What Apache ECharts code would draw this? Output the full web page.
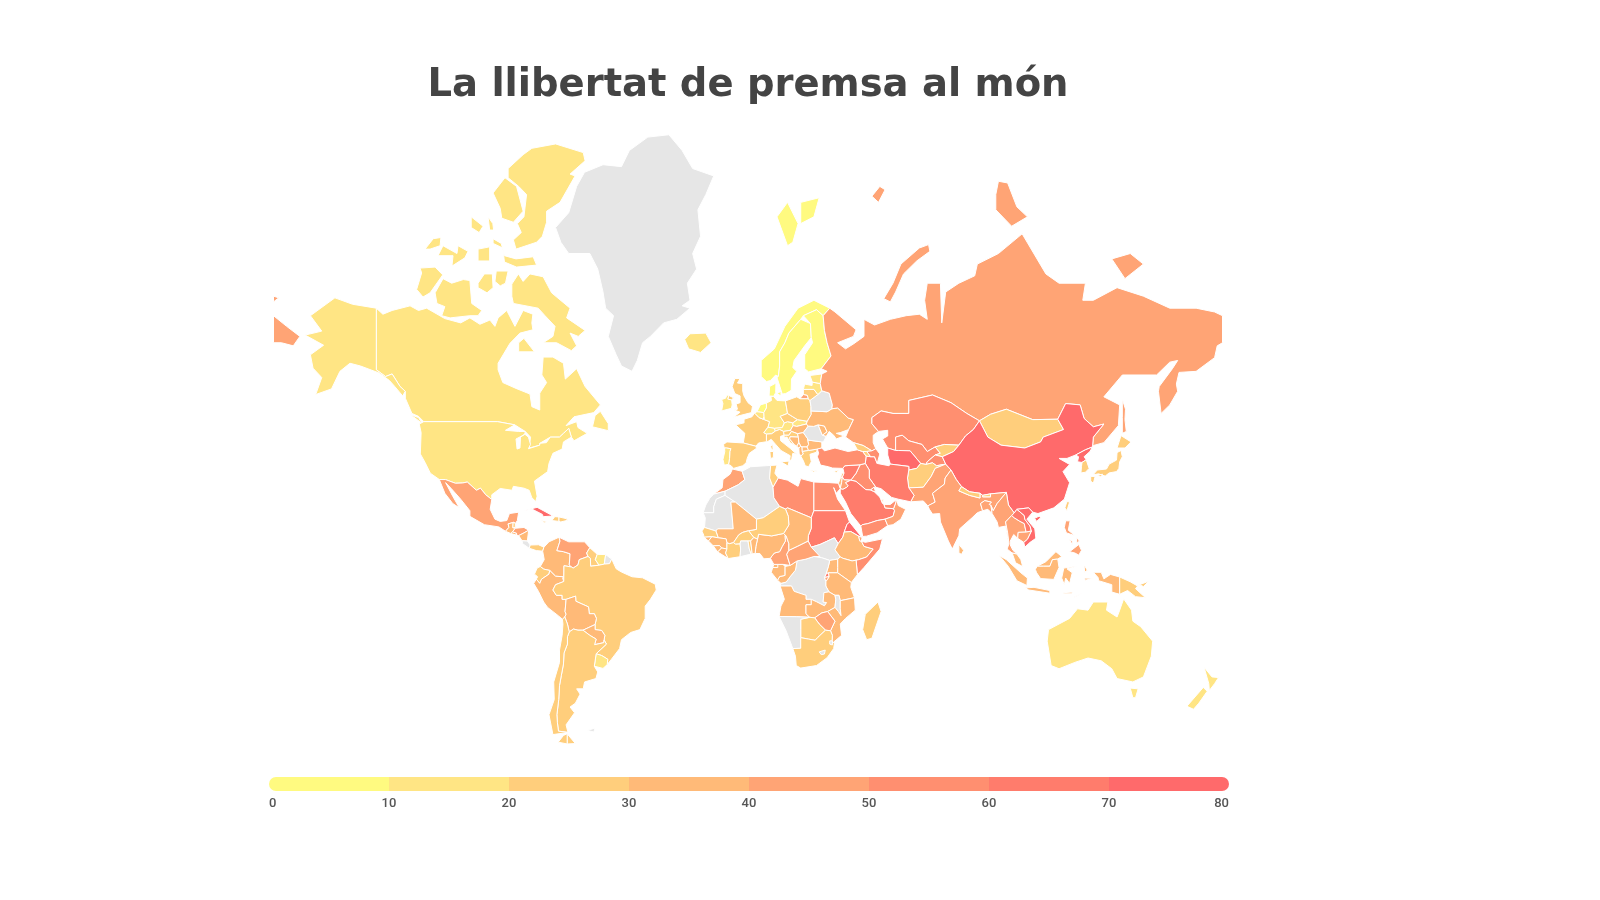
<!DOCTYPE html>
<html>
<head>
<meta charset="utf-8"/>
<title>La llibertat de premsa al món</title>
<style>
html, body { margin: 0; height: 100%; background: #fff; }
#main { width: 1600px; height: 900px; }
</style>
<script src="https://cdn.jsdelivr.net/npm/echarts@6/dist/echarts.min.js"></script>
</head>
<body>
<div id="main"></div>
<script type="text/javascript">
var titleText = 'La llibertat de premsa al món';

// values read off the fill colour of each country, countries without a value stay grey
var countryNames = [
  'Norway','Sweden','Finland','Denmark','Netherlands','Belgium','Germany','Luxembourg','Switzerland','Ireland',
  'Estonia','Latvia','Austria','Slovakia','Portugal','Iceland','Canada','United States','Australia','New Zealand',
  'Uruguay','Suriname','United Kingdom','France','Spain','Italy','Poland','Lithuania','Czechia','Slovenia',
  'Greece','Croatia','South Korea','Japan','Taiwan','Mongolia','Georgia','Kyrgyzstan','Afghanistan','Nepal',
  'Bhutan','Brazil','Argentina','Chile','Ecuador','Guyana','Panama','Haiti','Dominican Republic','Jamaica',
  'Tunisia','Niger','Senegal','Burkina Faso','Ivory Coast','Botswana','South Africa','Madagascar','Papua New Guinea','Cyprus',
  'Hungary','Ukraine','Moldova','Bulgaria','Serbia','Bosnia','Montenegro','Albania','North Macedonia','Armenia',
  'Colombia','Peru','Bolivia','Paraguay','Guatemala','El Salvador','Nicaragua','Belize','Mali','Chad',
  'Nigeria','Congo','Gabon','Equatorial Guinea','Ethiopia','Kenya','Uganda','Tanzania','Angola','Zambia',
  'Mozambique','Guinea','Guinea-Bissau','Sierra Leone','Liberia','Togo','Benin','Malaysia','Indonesia','Sri Lanka',
  'Russia','Mexico','Honduras','Venezuela','Morocco','Cameroon','Central African Rep.','Zimbabwe','Djibouti','Burundi',
  'Oman','Pakistan','India','Bangladesh','Myanmar','Thailand','Cambodia','Philippines','Libya','Egypt',
  'Somalia','Turkey','Iraq','Yemen','Kazakhstan','Uzbekistan','Tajikistan','Azerbaijan','United Arab Emirates','Kuwait',
  'Jordan','Israel','Lebanon','Qatar','Iran','Saudi Arabia','Syria','Laos','Rwanda',
  'China','North Korea','Vietnam','Cuba','Sudan','Eritrea','Turkmenistan'
];
var countryValues = [
  7.6,8.3,8.9,9.9,9.7,13,14.6,14.7,11.3,14.6,
  12.6,18.6,14.5,15.5,14.2,13.5,15.3,19,14.2,13.6,
  16.4,17.9,23.2,22.2,20.5,24.1,26.6,21.1,23.4,22.3,
  29.1,28.9,23.5,28.6,23.4,28.9,27.3,29.9,29.4,28.9,
  29.7,27.6,25.1,25.6,27.8,26.6,29.5,26.4,24.8,21,
  29.6,28.7,24.5,23.8,28.9,27.9,21.6,27.7,26.1,22.9,
  30.4,32.5,30.2,35,31.6,31.5,33.7,30.6,33.6,30,
  39.5,31.1,35.4,34.3,38.4,30.2,35.5,28.8,34.1,39.7,
  37.4,36.7,32.6,35.6,35.1,32.5,32.6,38.8,38.4,36.5,
  33.8,33.4,30.9,30.2,31.5,30,35.1,36.9,39.7,39.6,
  49.9,48.9,48.5,49.1,43.1,41.7,41.5,40.5,44,45,
  44.5,45.8,43.2,48.4,42.7,43.3,45.9,42.5,56.8,56.7,
  55.2,52.8,52.6,58.3,53.6,57.2,54,59.7,50.2,52,
  42.5,30.8,31.6,38.3,65.5,63.1,69.3,64.5,61,
  78.3,78.7,74.9,71.8,70,78.8,79
];

// class limits and colours of the legend strip
var classLimits = [0, 10, 20, 30, 40, 50, 60, 70, 80];
var classColors = ['#FFFA80', '#FFE584', '#FFCE7C', '#FFBA78', '#FFA475', '#FF8F70', '#FF7C6C', '#FF6A6B'];
var noDataColor = '#E6E6E6';

// country outlines as "lon,lat lon,lat ..." rings, hand simplified
var outlines = {
  'Canada': [
    '-141,70 -138.5,69.2 -135,69.7 -128.2,70.3 -125,69.7 -121.9,70 -115,68.6 -109,68 -105.5,68.7 -101.7,67.8 -97.9,68.4 -96,67.5 -94.8,68.7 -91.5,69.7 -88.4,67.5 -85.3,69.7 -81.6,69.2 -82,68 -81.6,67 -86.5,66.5 -90.3,64.9 -94.8,61.5 -94.8,60.3 -93,57.8 -88,56.6 -82.7,55.4 -82,52.6 -79,51.8 -79,55.6 -76.4,57.8 -78.2,59.3 -77.7,62.6 -74,62.6 -70,61.5 -69.3,58.5 -65,60.5 -61.8,57 -56,53 -58.5,51.2 -66,50.2 -69,48 -65,49 -64.5,47.5 -61,46 -66,44 -67,45 -68,47.3 -70,46 -71.5,45 -75,45 -79,43.3 -79,42.8 -83,42 -82.5,45 -84.5,46.5 -88.5,48.2 -95,49 -123,49 -125,50.3 -127.5,51 -130,54.5 -130,56 -132,57 -135,59.5 -137.5,59 -141,60.3',
    '-89.6,71.5 -89.6,72.9 -87.1,74 -85.3,73.2 -82.7,74 -77.7,73.7 -74.5,71.9 -67.5,70 -68.8,68.7 -61.8,66.9 -64.4,66 -67.5,66.5 -65,64.5 -67,63.7 -72.6,65 -77.7,65 -74,66 -73.2,67.5 -77,69 -79.6,70 -89,70.6',
    '-118.7,71.9 -115.7,73.5 -112.4,73 -108,73.4 -105.5,73.3 -104.8,70.6 -101,69.7 -102.4,69 -105.5,69 -113,68.7 -116.2,69 -115,70.2 -118,70.6',
    '-124.4,74.6 -118.7,74.7 -115.8,73.9 -120.6,71.9 -123.3,71.4 -125.7,72.3 -123.8,74.1',
    '-91,82 -85.3,82.7 -82,83 -73,83.2 -62.5,82.8 -61.8,82.4 -67.5,81.7 -65.6,81.6 -71.3,80 -76.4,79.4 -76.4,78.6 -78,77.5 -80.2,77 -88,76.4 -89,77.2 -86,77.8 -87.5,78.5 -85,79 -84,80.5 -87,81 -91,81.5',
    '-92.2,81.5 -87.8,81 -85.3,79.4 -89,78.6 -93.4,78.9 -94,79.6 -96.7,80.6',
    '-96.7,77.3 -93.6,76.9 -92.4,75.8 -88,75.5 -81.5,75.7 -80.2,74.9 -87.8,74.7 -92.4,75.2 -93,76.5 -96.7,76.9',
    '-117.6,75.8 -115.7,76.7 -110.4,76 -110,76.7 -106.2,76.2 -107.4,75.6 -112.3,74.8 -111.9,75.8',
    '-122.5,76.4 -119.4,77.3 -116.5,77.4 -116.8,76.7 -120.6,76.4',
    '-102.4,75.3 -98,75.3 -98,76.6 -102.4,76.4',
    '-105,79 -100.5,78.3 -102,77.8 -105,78.2',
    '-98.6,79 -96.8,78.5 -96.5,78 -98,78',
    '-102.4,72.5 -99,71.9 -96.7,72.5 -97,74 -100,74 -102.4,73',
    '-96,73.2 -94,72.7 -92,73 -91,74.3 -95.5,74.3',
    '-87,63.5 -81,63.5 -85,65.7 -87,65',
    '-59,47.7 -53,46.7 -53,48.5 -56,51.5 -58,50.5',
    '-128,50.7 -123.5,48.5 -125,50'
  ],
  'United States': [
    '-123,49 -95,49 -88.5,48.2 -92,46.8 -87,46.5 -84.5,46.5 -84.7,45.7 -88,44.5 -87.6,41.7 -86.5,42 -86.3,45 -84.7,45.8 -83.3,45 -82.5,43 -83.3,41.8 -79,42.8 -79,43.3 -76.5,43.5 -75,45 -71.5,45 -70,46 -68,47.3 -67,45 -70,43.7 -70.5,41.7 -74,40.5 -75.5,37.5 -76,35 -81,32 -80,27 -80.5,25.2 -82,26.5 -83,29 -85,29.7 -89,30.3 -89.5,29 -94,29.6 -97.2,27.5 -97.2,25.9 -99.5,27.5 -101.5,29.7 -103,29 -106.5,31.7 -108.2,31.4 -111,31.3 -114.8,32.5 -117.1,32.5 -120.5,34.5 -122.5,37.8 -124.3,40.3 -124,46.2 -124.7,48.4',
    '-141,70 -141,60.3 -137.5,59 -135,59.5 -132,57 -130,56 -131,55 -134,57 -136,58.2 -140,59.7 -147,61 -151,61.5 -154.8,60 -158,56.5 -164,55.3 -161.7,58.8 -165,60.6 -166,63 -161,64.6 -168,66.2 -161.7,66.8 -166,69 -156.7,71.3 -150,70.5'
  ],
  'Greenland': ['-73,78.2 -68,79.3 -65,81 -62,81.8 -55,82.2 -48,82.1 -45,82.9 -38,83.5 -30,83.6 -25,82.9 -21,82 -13,81.6 -16,80.5 -19,79.5 -18,77.5 -21,76 -19.5,74.5 -23,73 -22,71 -25,70.3 -22,70 -27,68.5 -32,68 -37,66 -40,65 -42,62 -44,60 -48,61 -50,63 -53,66 -51,69 -54,70 -55,72 -57,74.5 -60,76 -68,76 -71,77'],
  'Iceland': ['-24,65.5 -22,66.4 -16,66.5 -14,65 -18,63.4 -22.5,64'],
  'Mexico': ['-117.1,32.5 -114.8,32.5 -111,31.3 -108.2,31.4 -106.5,31.7 -103,29 -101.5,29.7 -99.5,27.5 -97.2,25.9 -97.8,22.5 -96,19 -94,18.2 -91.5,18.5 -90.5,21 -87,21.5 -87.5,18.5 -88.2,17.5 -88.9,17.9 -89.1,17.8 -91,17.3 -90.7,16 -92,14.6 -94.5,16.2 -100,17 -105.5,20 -105.5,22 -109,26 -112.5,29.5 -114.7,31.5 -112,27 -109.5,23 -112,24.5 -115,28'],
  'Guatemala': ['-92,14.6 -90.7,16 -91,17.3 -89.1,17.8 -89.2,15.9 -88.3,15.7 -89.3,14.4 -90,13.8'],
  'Belize': ['-89.1,17.8 -88.9,17.9 -88.2,17.5 -88.3,16 -89.2,15.9'],
  'El Salvador': ['-90,13.8 -89.3,14.4 -87.8,13.9 -87.8,13.2'],
  'Honduras': ['-89.3,14.4 -88.3,15.7 -85,16 -83.2,15 -85,14 -87,13 -87.8,13.2 -87.8,13.9'],
  'Nicaragua': ['-87,13 -85,14 -83.2,15 -83.7,11 -85.7,11.1'],
  'Costa Rica': ['-85.7,11.1 -83.7,11 -82.6,9.5 -83,8.3 -85.5,10'],
  'Panama': ['-83,8.3 -82.6,9.5 -79.5,9.6 -77.4,8.7 -77.9,7.2 -80.3,7.4'],
  'Cuba': ['-85,22 -80,23.2 -75,20.7 -74.2,20.1 -77.7,19.9 -78,20.7 -82,22.6'],
  'Haiti': ['-74.4,18.5 -71.7,18.2 -71.7,19.8 -73.3,19.9'],
  'Dominican Republic': ['-71.7,18.2 -71.7,19.8 -69,19.2 -68.4,18.6 -71,18'],
  'Jamaica': ['-78.3,18.4 -76.3,18.2 -77.2,17.7'],
  'Colombia': ['-77.4,8.7 -75.5,10.7 -71.7,12.4 -71.3,11 -72.5,7.4 -70,7 -67.5,6.2 -67.8,2 -67,1.2 -69.8,1.7 -69.9,-4.3 -70.3,-3 -70,-2.5 -73,-2.3 -75.2,-0.1 -77.5,0.4 -78.8,1.4 -77.3,4 -77.9,7.2'],
  'Venezuela': ['-71.7,12.4 -68,10.7 -62,10.7 -60,8.5 -61.2,6.5 -60.7,5.2 -64,4 -64.5,2 -66.3,0.8 -67,1.2 -67.8,2 -67.5,6.2 -70,7 -72.5,7.4 -71.3,11'],
  'Guyana': ['-60,8.5 -57.2,6 -57.9,4 -56.5,1.9 -59.7,1.5 -59.8,4.5 -60.7,5.2 -61.2,6.5'],
  'Suriname': ['-57.2,6 -54,5.9 -54.5,2.3 -56.5,1.9 -57.9,4'],
  'French Guiana': ['-54,5.9 -51.7,4.2 -52.5,2.5 -54.5,2.3'],
  'Ecuador': ['-78.8,1.4 -77.5,0.4 -75.2,-0.1 -75.5,-1.5 -78.3,-3.4 -79,-5 -80.3,-3.4 -79.8,-2.5 -81,-1.5 -80,0.8'],
  'Peru': ['-80.3,-3.4 -79,-5 -78.3,-3.4 -75.5,-1.5 -75.2,-0.1 -73,-2.3 -70,-2.5 -70.3,-3 -69.9,-4.3 -73,-5.5 -74,-7.5 -72.7,-9.5 -70.5,-9.5 -70.5,-11 -69,-11 -69.4,-15.5 -69,-16.5 -69.5,-17.5 -70.4,-18.3 -72,-17 -76,-14 -77.5,-12 -79.5,-8 -81.3,-5'],
  'Brazil': ['-60.7,5.2 -59.8,4.5 -59.7,1.5 -56.5,1.9 -54.5,2.3 -52.5,2.5 -51.7,4.2 -50,0.5 -48,-0.7 -44,-2.5 -40,-2.9 -35.2,-5.3 -34.8,-7.5 -37,-11 -39,-13.5 -39,-18 -41,-22 -44.5,-23 -48,-25.5 -48.7,-28.5 -52,-32.2 -53.4,-33.7 -53.2,-32 -55.5,-30.8 -57.6,-30.2 -53.7,-27 -54.6,-25.6 -54.3,-24 -55.5,-22.3 -58,-22 -58,-20.2 -57.5,-18 -58.3,-16.3 -60.2,-16.3 -60.5,-13.8 -65.3,-11.7 -65.4,-9.8 -69,-11 -70.5,-11 -70.5,-9.5 -72.7,-9.5 -74,-7.5 -73,-5.5 -69.9,-4.3 -69.8,1.7 -67,1.2 -66.3,0.8 -64.5,2 -64,4'],
  'Bolivia': ['-69,-11 -65.4,-9.8 -65.3,-11.7 -60.5,-13.8 -60.2,-16.3 -58.3,-16.3 -57.5,-18 -58,-20.2 -62.6,-22.2 -64.5,-22.2 -66.2,-21.8 -67.8,-22.8 -68.5,-20 -69.5,-17.5 -69,-16.5 -69.4,-15.5'],
  'Paraguay': ['-58,-20.2 -58,-22 -55.5,-22.3 -54.3,-24 -54.6,-25.6 -54.7,-26.5 -58.2,-27.2 -57.6,-25.3 -60,-24 -62.6,-22.2'],
  'Uruguay': ['-57.6,-30.2 -55.5,-30.8 -53.2,-32 -53.4,-33.7 -55,-34.9 -58.3,-34.2'],
  'Argentina': [
    '-67.8,-22.8 -66.2,-21.8 -64.5,-22.2 -62.6,-22.2 -60,-24 -57.6,-25.3 -58.2,-27.2 -54.7,-26.5 -54.6,-25.6 -53.7,-27 -57.6,-30.2 -58.3,-34.2 -57,-36 -57.7,-38 -62,-39 -62.5,-41 -65,-41 -63.7,-42.5 -65.5,-45 -67.5,-46 -65.8,-47.5 -69,-50.5 -68.3,-52.3 -71.9,-52 -72.3,-50 -72.5,-48 -71.8,-44 -71.5,-40 -70.8,-37 -70,-33.5 -69.8,-30 -68.5,-27 -68.5,-24.5',
    '-68.6,-52.6 -65.5,-54.8 -68.6,-54.9'
  ],
  'Chile': [
    '-69.5,-17.5 -68.5,-20 -67.8,-22.8 -68.5,-24.5 -68.5,-27 -69.8,-30 -70,-33.5 -70.8,-37 -71.5,-40 -71.8,-44 -72.5,-48 -72.3,-50 -71.9,-52 -68.3,-52.3 -74,-52.8 -75.5,-48 -73.5,-44 -73.7,-39 -71.5,-33 -71.5,-29 -70.5,-24 -70.2,-20 -70.4,-18.3',
    '-68.6,-52.6 -68.6,-54.9 -72,-54.5 -70,-53'
  ],
  'Falkland Islands': ['-61,-51.8 -58,-51.3 -58.5,-52.2'],
  'Norway': [
    '7,58 5,59 5,62 10,64 14,67.5 19,70 25,71 31,70 28.5,69 26,69.8 21,69 20,68.5 15.5,66.5 14,65 12,63.5 12,61 11.5,59 10.5,59.3 8.5,58.2',
    '11,79 15,76.7 17,77 19,78.5 15,80',
    '20,80 27,80.3 25,79 20,78.5'
  ],
  'Sweden': ['11.5,59 12,61 12,63.5 14,65 15.5,66.5 20,68.5 23.7,67.9 24,65.8 21.5,64.5 17.5,62 17,60.7 18.5,60 16.5,58.5 16.4,56.2 14.3,55.5 13,55.4 11,58.8'],
  'Finland': ['21.5,60.5 21.5,63 24.5,65 24,65.8 23.7,67.9 21,69 26,69.8 28.5,69 29,66.9 30,65 31.5,62.8 27.8,60.5 23,59.9'],
  'Denmark': ['8,55 8.2,57 10.6,57.7 10.5,55.7 9.7,54.9', '11,55.5 12.5,56 12.5,55'],
  'United Kingdom': [
    '-5.5,50.1 1.3,51.2 1.7,52.7 0,53.5 -1.5,55 -2,56 -2,57.6 -4,57.7 -3,58.6 -5,58.6 -6,57 -5,55.5 -3,55 -3,53.5 -4.5,53.2 -4,52 -5.2,51.8 -3,51.3',
    '-7.3,55.1 -5.5,54.6 -6.2,54.1 -7.7,54.3'
  ],
  'Ireland': ['-7.3,55.1 -7.7,54.3 -6.2,54.1 -6,53 -6.3,52.2 -10,51.6 -9.5,53.3 -10,54.2 -8.5,54.5 -8,55.2'],
  'France': ['2.5,51.1 4.2,50 5.8,49.6 6.2,49.5 8.2,49 7.6,47.6 6,46.2 7,45.8 7,44 7.5,43.8 4,43.4 3,42.5 -1.8,43.4 -1.2,46 -4.7,48.2 -1.5,48.7 -1.5,49.6 1.5,50.2', '8.6,42.4 9.4,43 9.5,41.6 9,41.4'],
  'Spain': ['-1.8,43.4 3,42.5 3.2,41.9 0.5,40.5 -0.3,39 -0.7,37.7 -2,36.8 -5.5,36 -6.4,36.8 -7.4,37.2 -7,39 -6.9,41 -6.5,41.8 -8.2,42 -9,42 -9.3,43 -8,43.7'],
  'Portugal': ['-7.4,37.2 -9,37 -9.5,38.7 -8.8,41 -8.9,42 -8.2,42 -6.5,41.8 -6.9,41 -7,39'],
  'Netherlands': ['3.4,51.4 4.7,53 7,53.4 7,52.3 6,51.2'],
  'Belgium': ['2.5,51.1 3.4,51.4 6,51.2 6.1,50.2 5.8,49.6 4.2,50'],
  'Luxembourg': ['5.8,49.6 6.1,50.2 6.2,49.5'],
  'Germany': ['7,53.4 8.9,54 8.7,54.9 9.7,54.9 11,54 14.2,53.9 14.6,52.5 15,51 12.2,50.3 13.8,48.7 13,47.5 10,47.3 7.6,47.6 8.2,49 6.2,49.5 6.1,50.2 6,51.2 7,52.3'],
  'Switzerland': ['6,46.2 7.6,47.6 10,47.3 10.4,46.6 9,45.9 7,45.8'],
  'Austria': ['10,47.3 13,47.5 13.8,48.7 15,49 17,48.7 17.1,48 16.1,46.8 13.5,46.5 12,47 10.4,46.6'],
  'Italy': ['7,44 7,45.8 9,45.9 10.4,46.6 12,47 13.5,46.5 13.7,45.5 12.3,45.2 12.4,44 16,41.9 18.5,40.2 17,40.5 16.6,38.9 15.7,38 16,39.8 12.5,41.3 10.5,43 8.8,44.4 7.5,43.8', '12.5,38 15.6,38.2 15.2,36.7', '8.3,41 9.7,41 9.6,39.2 8.5,39'],
  'Czechia': ['12.2,50.3 15,51 17,50.2 18.8,49.5 17,48.7 15,49 13.8,48.7'],
  'Slovakia': ['17,48.7 18.8,49.5 22.5,49.1 22.1,48.4 18.5,47.8 17.1,48'],
  'Poland': ['14.2,53.9 18.5,54.8 19.7,54.4 22.8,54.4 23.5,54 23.9,52.6 23.9,51.6 24,50.8 22.5,49.1 18.8,49.5 17,50.2 15,51 14.6,52.5'],
  'Hungary': ['16.1,46.8 17.1,48 18.5,47.8 22.1,48.4 22.9,47.9 21,46.2 18.8,45.9 16.5,46.5'],
  'Slovenia': ['13.5,46.5 16.1,46.8 16.5,46.5 15.5,45.5 13.7,45.5'],
  'Croatia': ['13.7,45.5 15.5,45.5 16.5,46.5 18.8,45.9 19.1,45 16,45.1 15.8,44.5 17.5,43 18.5,42.5 16,43.5 14.8,45 13.7,44.9'],
  'Bosnia': ['16,45.1 19.1,45 19.3,43.5 18.5,42.5 17.5,43 15.8,44.5'],
  'Serbia': ['18.8,45.9 21,46.2 22.7,44.5 22.7,44.2 23,43 22.4,42.3 20.5,42.3 20,42.5 19.3,43.5 19.1,45'],
  'Montenegro': ['19.3,43.5 20,42.5 19.3,42 18.5,42.5'],
  'Albania': ['19.3,42 20,42.5 20.5,42.3 20.6,41 21,40.3 20,39.7 19.4,40.5'],
  'North Macedonia': ['20.5,42.3 22.4,42.3 23,41.3 20.6,41'],
  'Greece': ['20,39.7 21,40.3 20.6,41 23,41.3 26.3,41.7 26,40.8 23.5,40.2 24,38 23,36.5 21.7,36.8 21,38.3', '23.5,35.5 26.3,35.2 24.8,34.9'],
  'Bulgaria': ['23,43 22.7,44.2 28,43.7 28,42 26.3,41.7 23,41.3 22.4,42.3'],
  'Romania': ['21,46.2 22.9,47.9 24.9,47.8 26.6,48.2 28.2,45.5 29.7,45.2 28.6,43.7 28,43.7 22.7,44.2 22.7,44.5'],
  'Moldova': ['26.6,48.2 29,47.9 30,46.4 28.2,45.5'],
  'Ukraine': ['22.1,48.4 22.5,49.1 24,50.8 23.9,51.6 30,51.4 31.8,52.1 34,52.3 38,49.9 40,49.5 38.2,47 35,46.2 33.5,46 36.5,45.3 33.5,44.5 32.5,45.5 30.8,46.5 29.7,45.2 28.2,45.5 30,46.4 29,47.9 26.6,48.2 24.9,47.8 22.9,47.9'],
  'Belarus': ['23.9,52.6 23.9,51.6 30,51.4 31.8,52.1 32,53 30.8,55.6 28,56.1 26.5,55.3 23.5,54'],
  'Lithuania': ['21,55.3 21,56.4 25,56.4 26.5,55.3 23.5,54 22.8,54.4 22.5,55.1'],
  'Latvia': ['21,56.4 21.5,57.5 24.3,57.2 24.4,57.9 27.4,57.6 28,56.1 26.5,55.3 25,56.4'],
  'Estonia': ['24.4,57.9 23.5,59.2 28,59.5 27.4,57.6'],
  'Russia': [
    '31,70 33,69.5 41,67 40,66 34,65 37,64 40,64.8 44,66 44,68.5 48,67.7 54,68.5 60,69 65,69.2 68,68.5 67,71 68,73 73,73 73.5,68 75,72 80,73 86,73.8 87,75 95,76 104,77.7 113,74 118,73 128,73 127,71 131,71 140,72.5 150,71.5 160,70 170,70 177,69.5 180,69 180,65 178,64.5 177,62.5 170,60 163.5,59.8 162.5,57.5 163,56 160,53 156.7,51 155.7,56 156,57 161,60.5 163,62 160,61.7 155,59.3 142,59.3 135,54.8 141,53 140.5,48 135,43.5 131,42.7 130.7,42.3 131,45 135,48.4 131,47.7 127.5,49.8 126,53 120.5,53.3 117.5,49.6 108,49.5 98,52 92,50.8 87.8,49.2 83,51 77,53.5 70,55.2 61,54 61,51 55,51 50.5,51.6 47,50 47,48.5 49.5,46.5 47.5,45.5 47.5,43.5 48.5,41.8 47,41.2 43.7,42.7 40,43.5 37,45 38.2,47 40,49.5 38,49.9 34,52.3 31.8,52.1 32,53 30.8,55.6 28,56.1 27.4,57.6 28,59.5 30,60 27.8,60.5 31.5,62.8 30,65 29,66.9 28.5,69',
    '-180,69 -175,67.5 -170,66 -172.5,64.5 -177,65 -180,65',
    '-180,71.5 -178,71.3 -180,70.8',
    '19.7,54.4 22.8,54.4 22.5,55.1 21,55.3',
    '68.5,76.8 65,76.5 58,75 55,73 51.5,71.2 54,70.8 56,72 59,74 64,75.3 69,76.2',
    '94,80.5 95,81.3 98.5,81.2 102,79.7 106,79 100,78.3 94,79.5',
    '47,80.4 50,81 52,80.8 49.5,80',
    '138,75.5 143,73.5 150,75 145,76',
    '142,54.3 143.2,52 143,49.5 143.5,46.5 142,46 142,50'
  ],
  'Kazakhstan': ['47,50 50.5,51.6 55,51 61,51 61,54 70,55.2 77,53.5 83,51 87.8,49.2 85.5,47 82.5,45.3 80,42.8 74.5,43 71,42.3 68,41 66,43 61,44 58.5,45.5 56,45 56,41.3 53,42 51,44.5 53,45.3 53,46.8 49.5,46.5 47,48.5'],
  'Uzbekistan': ['56,45 58.5,45.5 61,44 66,43 68,41 71,42.3 73,40.5 71,40 68,38 67.5,37.2 65.5,37.5 61.5,41.2 57,41.3 56,41.3'],
  'Turkmenistan': ['53,42 56,41.3 57,41.3 61.5,41.2 65.5,37.5 64,36 61,35.5 61,36.6 54,37.3 53,40'],
  'Kyrgyzstan': ['71,42.3 74.5,43 80,42.8 78,41 73.7,39.5 71,40 73,40.5'],
  'Tajikistan': ['68,38 71,40 73.7,39.5 75,37.3 71.5,36.8 70,37.7 67.5,37.2'],
  'Afghanistan': ['61,35.5 64,36 65.5,37.5 67.5,37.2 70,37.7 71.5,36.8 75,37.3 71,36 69.5,33.5 66.5,30 61,29.8 60.5,33'],
  'Pakistan': ['61,29.8 66.5,30 69.5,33.5 71,36 75,37.3 77,35.5 74.8,33 74.5,31 70,28 71,25 68.2,23.7 66.5,25.4 61.7,25.1 63,27.3'],
  'Iran': ['44.8,39.7 46.5,39.5 48,39.5 49,37.5 53.5,36.8 54,37.3 61,36.6 61,35.5 60.5,33 61,29.8 63,27.3 61.7,25.1 57,26 54.5,26.6 50.5,29.5 48.5,30 46,33 46,35.5 44.5,37.5'],
  'Iraq': ['42.5,37.1 44.5,37.5 46,35.5 46,33 48.5,30 47.8,30 46.5,29.1 44.7,29.2 41,31.9 39,32.3 41,34.5'],
  'Syria': ['36,36 36.7,36.8 42.5,37.1 41,34.5 39,32.3 36.5,32.4 35.8,33.3 36.4,34.6'],
  'Lebanon': ['35.8,33.3 36.4,34.6 35.6,34.5 35.1,33.1'],
  'Israel': ['35.1,33.1 35.8,33.3 35.5,31.5 35,29.5 34.3,31.3'],
  'Jordan': ['35.8,33.3 36.5,32.4 39,32.3 37,31.5 38,30.5 37.5,30 36,29.3 35,29.5 35.5,31.5'],
  'Saudi Arabia': ['35,29.5 36,29.3 37.5,30 38,30.5 37,31.5 39,32.3 41,31.9 44.7,29.2 46.5,29.1 47.8,28.6 50,26.7 51,24.6 51.6,24.2 52,23 55.2,22.7 55.6,22 55,20 52,19 49,18.5 45.5,17.4 43.3,17 42.8,16.5 39,21 37,25 35,28'],
  'Kuwait': ['46.5,29.1 47.8,30 48.4,28.5 47.8,28.6'],
  'Qatar': ['51,24.6 51.5,25.9 50.8,26'],
  'Yemen': ['42.8,16.5 43.3,17 45.5,17.4 49,18.5 52,19 53,16.7 49,14 45,12.8 43.5,12.7'],
  'Oman': ['52,19 55,20 55.6,22 55.2,22.7 56,24.7 56.4,26 57,23.8 59.8,22.5 58,19 55,17 53,16.7'],
  'United Arab Emirates': ['51.6,24.2 52,23 55.2,22.7 56,24.7 56.2,25.8 54,24.2'],
  'Turkey': ['26.3,41.7 28,42 29,41.2 33,42 38,41 41.5,41.5 43.5,41 44.8,39.7 44.5,37.5 42.5,37.1 36.7,36.8 36,36 32,36.1 30.5,36.5 27.5,37 26.3,39.5 26.8,40.5'],
  'Cyprus': ['32.5,35 34.5,35.6 33.5,34.7'],
  'Georgia': ['40,43.5 43.7,42.7 47,41.2 45,41 43.5,41 41.5,41.5'],
  'Azerbaijan': ['47,41.2 48.5,41.8 50,40.3 49,37.5 48,39.5 46.5,39.5 45,41'],
  'Armenia': ['43.5,41 45,41 46.5,39.5 44.8,39.7'],
  'Mongolia': ['87.8,49.2 92,50.8 98,52 108,49.5 117.5,49.6 119.7,47 112,45 111,43.7 105,42 96,42.8 91,45'],
  'China': [
    '73.7,39.5 78,41 80,42.8 82.5,45.3 85.5,47 87.8,49.2 91,45 96,42.8 105,42 111,43.7 112,45 119.7,47 117.5,49.6 120.5,53.3 126,53 127.5,49.8 131,47.7 135,48.4 131,45 130.7,42.3 128,41.5 124.3,40 121,39 118,39 122,37.2 119.5,35 122,31.5 120,26 116,23 110,21 108,21.5 106.5,23 102,22.5 101,21.2 98.8,24 98,28.3 92,27.8 89,27.3 88,28 84,28.5 81,30.2 79,32.5 77,35.5 75,37.3',
    '108.7,19.3 110.5,20.1 111,19.5 109.5,18.2'
  ],
  'North Korea': ['124.3,40 128,41.5 130.7,42.3 129.7,41 127.5,39.5 128.3,38.6 126.7,37.8 125,38 125.4,39.5'],
  'South Korea': ['126.7,37.8 128.3,38.6 129.4,36 128,34.8 126.3,34.6 126.5,36.5'],
  'Japan': [
    '130.9,34 132.5,35.5 136,35.8 137,37.3 139.8,38.5 140,40.7 141.5,41.3 142,39.5 141,38 140.7,36 139.8,35 137,34.6 135.5,33.6 133,34.3',
    '130,33.5 131.7,33.5 131,31.3 130,32',
    '132.5,33.8 134.5,34.2 134,33.3',
    '140,42 141.5,45.4 145.3,43.7 143,42'
  ],
  'Taiwan': ['121,25.2 122,25 121,22 120.2,23'],
  'India': ['68.2,23.7 71,25 70,28 74.5,31 74.8,33 77,35.5 79,32.5 81,30.2 80,28.8 84,27.3 88,26.4 88,28 89,27.3 89,26.8 92,26.8 92,27.8 98,28.3 94.5,24.5 93,22 92.2,23.8 91.5,24.2 92.3,25 89.8,25.5 88.2,24.5 89,22 87,21.3 85,19.5 80.3,15.5 80,13 78,9 77.5,8 76,11 73,18 72.7,21 70,20.8 68.8,22.5'],
  'Nepal': ['81,30.2 84,28.5 88,28 88,26.4 84,27.3 80,28.8'],
  'Bhutan': ['89,27.3 92,27.8 92,26.8 89,26.8'],
  'Bangladesh': ['88.2,24.5 89.8,25.5 92.3,25 91.5,24.2 92.2,23.8 92.6,21 91,22.5 89,22'],
  'Sri Lanka': ['80,9.7 81.8,7.5 81,6 80,6.5'],
  'Myanmar': ['98,28.3 98.8,24 101,21.2 100,20.3 97.7,18 98.5,14 99,10 98.5,12 97.7,16.5 95,16 94.5,18 92.6,21 92.2,23.8 93,22 94.5,24.5'],
  'Thailand': ['100,20.3 101,19.5 103,18.3 104.8,17.4 105.5,14.3 102.5,14.2 102.3,12 100.8,13.4 99.5,11 99.5,9.5 100.5,7.5 102,6.1 100.2,6.5 98.3,8 99,10 98.5,14 97.7,18'],
  'Laos': ['101,21.2 102,22.5 104.8,20.3 105,19 107,16.5 107.5,14.7 105.5,14.3 104.8,17.4 103,18.3 101,19.5 100,20.3'],
  'Vietnam': ['102,22.5 106.5,23 108,21.5 105.8,19 108.8,15.5 109.2,12 107,10.5 105,8.7 104.6,10.5 106,11.7 107.5,14.7 107,16.5 105,19 104.8,20.3'],
  'Cambodia': ['105.5,14.3 107.5,14.7 106,11.7 104.6,10.5 102.3,12 102.5,14.2'],
  'Malaysia': ['100.2,6.5 102,6.1 103.5,4 104.2,1.4 101.5,2.8', '109.7,1.5 113,3.2 116.8,7 119,5.2 117.5,4.2 115.5,4 114.5,1.5 112,1.5'],
  'Indonesia': [
    '109,0.3 109.7,1.5 112,1.5 114.5,1.5 115.5,4 117.5,4.2 118,1 116,-3.5 111,-3.2 109.5,-1',
    '95.3,5.6 98,4 103.5,-1 106,-3 105.8,-5.8 102,-4 98.7,1.5',
    '105.3,-6.7 108.5,-6.5 114.5,-7.7 114.5,-8.7 106.5,-7.5',
    '119.8,0.8 125,1.5 121,0.5 123,-1 122,-5 120.5,-3 120,-5.5 119,-3',
    '124,-10 127,-8.4 123.5,-10.4',
    '119.8,-8.5 123,-8.3 122.8,-8.9 119.8,-8.9',
    '127.5,2 128.7,0 127.7,-0.8',
    '127.5,-3 130.8,-3.1 128,-3.8',
    '131,-0.8 134,-0.8 135,-3.3 137.5,-1.6 141,-2.6 141,-9.1 138,-8.3 138,-5.5 133,-4 132.8,-2.8'
  ],
  'Papua New Guinea': ['141,-2.6 145,-4.4 147.8,-6 147,-7 150.8,-10.4 147,-10 144,-7.7 141,-9.1', '148.5,-5.5 152,-4.2 150,-6.2'],
  'Philippines': [
    '120.5,18.4 122.2,18.4 121.5,15 124,13 120.8,14 120,16',
    '122,7 125.5,9.7 126.5,7.5 125.5,5.7 124,6.5',
    '124.5,12.5 125.7,11 124.8,10.2',
    '122,11.5 123,11 123,9.5'
  ],
  'Australia': [
    '114,-22 113.5,-26 115,-34 118,-35 124,-33 129,-31.6 134,-32.5 138,-35 140,-38 146,-39 150,-37.5 153,-31 153.5,-26 149,-21 146,-19 145.5,-15 142.5,-10.8 141,-15 140,-17.5 136,-15 136.5,-12 131,-12 129,-15 125,-14.5 122,-18',
    '145,-40.8 148,-41 147,-43.5 146,-43.5'
  ],
  'New Zealand': ['173,-34.5 176,-37.5 178.5,-37.7 177,-39.5 175,-41.5 174.8,-39.5', '172.7,-40.6 174.2,-41.7 171,-45 169,-46.6 166.5,-45.8'],
  'Morocco': ['-5.9,35.8 -2.2,35.1 -1.2,32.5 -3.7,30.8 -8.7,28.7 -13,27.7 -9.8,29.8 -9.5,32.5 -6.8,34.2'],
  'Western Sahara': ['-13,27.7 -8.7,28.7 -8.7,27.3 -12,26 -13,23.4 -13,21.3 -17,21.3 -16,24 -14.5,26.3'],
  'Mauritania': ['-17,21.3 -13,21.3 -13,23.4 -12,26 -8.7,27.3 -4.8,25 -6.5,25 -5.6,15.5 -11.5,15.5 -12.2,14.7 -16.5,16 -16.2,19.4'],
  'Algeria': ['-2.2,35.1 1,36.5 8.6,36.9 8.2,33 9.5,30 9.8,26.5 12,23.5 5.8,19.5 3.2,19 -4.8,25 -8.7,27.3 -8.7,28.7 -3.7,30.8 -1.2,32.5'],
  'Tunisia': ['8.6,36.9 11,37 10.2,34.5 11.5,33 9.5,30 8.2,33'],
  'Libya': ['11.5,33 15,32.3 19,30.3 20,32.8 25,31.7 25,22 24,19.5 15,23 14.2,22.6 12,23.5 9.8,26.5 9.5,30'],
  'Egypt': ['25,31.7 31,31.5 34.3,31.3 35,29.5 33.5,28 32.5,29.9 34,26 37,22 25,22'],
  'Sudan': ['25,22 37,22 38.5,18 37.5,17 36.5,14.3 36,12.5 34.2,10 32.8,12.2 27.3,9.7 24,8.7 22.8,11 22.9,13 24,15.7 24,19.5'],
  'South Sudan': ['24,8.7 27.3,9.7 32.8,12.2 34.2,10 33,7.7 35,5 34,4.2 31,3.7 28,4.7 25,5.2'],
  'Eritrea': ['36.5,14.3 37.5,17 38.5,18 43,12.6 42,12.8 39,14.5'],
  'Ethiopia': ['36,12.5 36.5,14.3 39,14.5 42,12.8 42.4,11 43,11 44,9 47.5,8 45,5 42,4 39.5,3.5 36,4.5 35,5 33,7.7 34.2,10'],
  'Djibouti': ['42,12.8 43.3,12.3 43,11 42.4,11'],
  'Somalia': ['43,11 44.5,10.5 51,11.8 50,8 44,1 41.5,-1.7 41,3.8 42,4 45,5 47.5,8 44,9'],
  'Kenya': ['34,4.2 35,5 36,4.5 39.5,3.5 41,3.8 41.5,-1.7 39.2,-4.7 34,-1 34,1'],
  'Uganda': ['31,3.7 34,4.2 34,1 34,-1 30.5,-1 29.6,-1.4 30.5,1.5'],
  'Rwanda': ['29.6,-1.4 30.5,-1 30.8,-2.4 29,-2.8'],
  'Burundi': ['29,-2.8 30.8,-2.4 30.5,-3 29.5,-4.4'],
  'Tanzania': ['30.5,-1 34,-1 39.2,-4.7 39,-6.5 40.4,-10.4 35,-11.5 34.5,-9.5 33,-9.5 30.7,-8.2 29.5,-6 29.5,-4.4 30.5,-3 30.8,-2.4'],
  'DR Congo': ['18.6,3.5 22,4.2 25,5.2 28,4.7 31,3.7 30.5,1.5 29.6,-1.4 29,-2.8 29.5,-4.4 29.5,-6 30.7,-8.2 28.8,-8.5 28.5,-12 29.8,-12.2 29,-13.4 26,-11.9 24,-11 22,-11 22,-9.5 17.5,-8 16.5,-6 12.2,-6 12.5,-5 14.5,-4.5 16.2,-2.2 18,0'],
  'Congo': ['11.2,-3.8 12.5,-5 14.5,-4.5 16.2,-2.2 18,0 18.6,3.5 16,1.8 14,1.4 14,-2 12,-2.4'],
  'Gabon': ['9.4,1 9.8,2.2 13.3,2.2 14,1.4 14,-2 12,-2.4 11.2,-3.8 8.8,-0.8'],
  'Equatorial Guinea': ['9.4,1 9.8,2.2 11.3,2.2 11.3,1'],
  'Cameroon': ['8.5,4.5 9.8,2.2 13.3,2.2 16,1.8 15,5 14.7,6 15.5,7.5 15.5,10 14.5,12.8 14,13 14.2,11 13,9 12,7 10,6.5 8.8,5'],
  'Central African Rep.': ['14.7,6 15,5 16,1.8 18.6,3.5 22,4.2 25,5.2 27.3,5.2 24,8.7 22.8,11 18.7,9 15.5,7.5'],
  'Chad': ['14.2,22.6 15,23 24,19.5 24,15.7 22.9,13 22.8,11 18.7,9 15.5,7.5 15.5,10 14.5,12.8 13.5,13.8 15.5,16.9 15.3,20'],
  'Nigeria': ['2.7,6.3 3,9 3.6,11.7 4,13.5 9,12.9 13.5,13.8 14.5,12.8 14,13 14.2,11 13,9 12,7 10,6.5 8.8,5 8.5,4.5 6,4.3 4.5,6.3'],
  'Niger': ['3.6,11.7 2.2,12.3 0.2,14.8 3.2,15.3 3.2,19 5.8,19.5 12,23.5 14.2,22.6 15.3,20 15.5,16.9 13.5,13.8 9,12.9 4,13.5'],
  'Mali': ['-12.2,14.7 -11.5,15.5 -5.6,15.5 -6.5,25 -4.8,25 3.2,19 3.2,15.3 0.2,14.8 -2,14.2 -3.5,13.3 -5.5,10.4 -7,10 -8,10.3 -8.3,11.8 -11.3,12.2'],
  'Burkina Faso': ['-5.5,10.4 -3.5,13.3 -2,14.2 0.2,14.8 2.2,12.3 1,11 0,11 -2.8,11 -3,9.9 -4.7,9.8'],
  'Senegal': ['-17.5,14.7 -16.5,16 -12.2,14.7 -11.3,12.2 -13.7,12.6 -16.7,12.4 -16.8,13.2'],
  'Guinea-Bissau': ['-16.7,12.4 -13.7,12.6 -15,11'],
  'Guinea': ['-13.7,12.6 -11.3,12.2 -8.3,11.8 -8,10.3 -8,8 -10,8.4 -10.8,9.3 -13.2,9.2 -15,11'],
  'Sierra Leone': ['-13.2,9.2 -10.8,9.3 -10,8.4 -11.5,6.9'],
  'Liberia': ['-11.5,6.9 -10,8.4 -8,8 -8.5,6.5 -7.5,4.4'],
  'Ivory Coast': ['-7.5,4.4 -8.5,6.5 -8,8 -8,10.3 -7,10 -5.5,10.4 -4.7,9.8 -3,9.9 -2.8,8 -3,5.1'],
  'Ghana': ['-3,5.1 -2.8,8 -3,9.9 -2.8,11 0,11 0.5,8 1.2,6.1'],
  'Togo': ['1.2,6.1 0.5,8 0,11 1,11 1.6,6.2'],
  'Benin': ['1.6,6.2 1,11 2.2,12.3 3.6,11.7 3,9 2.7,6.3'],
  'Angola': ['12.2,-6 16.5,-6 17.5,-8 22,-9.5 22,-11 24,-11 24,-13 22,-13 22,-16.3 23.4,-17.6 18.5,-17.4 11.8,-17.3 12.5,-13.5 13.8,-11'],
  'Zambia': ['24,-11 26,-11.9 29,-13.4 29.8,-12.2 28.5,-12 28.8,-8.5 30.7,-8.2 33,-9.5 33.3,-11 33,-14 30.2,-15.5 28,-16 25.3,-17.8 23.4,-17.6 22,-16.3 22,-13 24,-13'],
  'Malawi': ['33,-9.5 34.5,-9.5 35,-11.5 35,-14.5 35.3,-17 34.3,-15.5 33,-14 33.3,-11'],
  'Mozambique': ['40.4,-10.4 40.7,-15 37,-18 35,-20 35.5,-24 32.9,-26 32,-26.8 31.9,-25.9 32,-24 31.3,-22.4 33,-19 30.2,-15.5 33,-14 34.3,-15.5 35.3,-17 35,-14.5 35,-11.5'],
  'Zimbabwe': ['25.3,-17.8 28,-16 30.2,-15.5 33,-19 31.3,-22.4 29.4,-22.2 27,-20'],
  'Botswana': ['20,-18.3 23.4,-17.6 25.3,-17.8 27,-20 29.4,-22.2 26.5,-24.7 25.5,-25.7 23,-25.3 20,-24.8 20,-22'],
  'Namibia': ['11.8,-17.3 18.5,-17.4 23.4,-17.6 20,-18.3 20,-22 20,-24.8 20,-28.4 17,-28.5 14.5,-22.5'],
  'South Africa': ['17,-28.5 20,-28.4 20,-24.8 23,-25.3 25.5,-25.7 26.5,-24.7 29.4,-22.2 31.3,-22.4 32,-24 31.9,-25.9 32,-26.8 32.9,-26 32.5,-28.5 30,-31.5 26,-34 20,-34.8 18.3,-34 18,-31'],
  'Lesotho': ['27,-29.6 29.3,-29 29,-30.3 27.8,-30.5'],
  'Eswatini': ['31,-25.9 32,-25.9 32,-27.3 31,-27'],
  'Madagascar': ['49.3,-12 50.5,-15.5 47,-25 45,-25.5 43.5,-22 44.5,-16.5']
};

function parseRing(text) {
  var ring = text.split(' ').map(function (pair) {
    return pair.split(',').map(Number);
  });
  ring.push(ring[0]);
  return ring;
}

var worldGeo = {
  type: 'FeatureCollection',
  features: Object.keys(outlines).map(function (name) {
    return {
      type: 'Feature',
      properties: { name: name },
      geometry: {
        type: 'MultiPolygon',
        coordinates: outlines[name].map(function (r) { return [parseRing(r)]; })
      }
    };
  })
};

echarts.registerMap('world', worldGeo);

var mercator = {
  project: function (p) {
    var lat = Math.max(-85, Math.min(85, p[1])) * Math.PI / 180;
    return [p[0], -Math.log(Math.tan(Math.PI / 4 + lat / 2)) * 180 / Math.PI];
  },
  unproject: function (p) {
    return [p[0], (2 * Math.atan(Math.exp(-p[1] * Math.PI / 180)) - Math.PI / 2) * 180 / Math.PI];
  }
};

var mapData = countryNames.map(function (name, i) {
  return { name: name, value: countryValues[i] };
});

var pieces = classColors.map(function (color, i) {
  return { min: classLimits[i], max: classLimits[i + 1], color: color };
});

// legend strip: one stacked bar per class
var legendSeries = classColors.map(function (color, i) {
  var last = classColors.length - 1;
  return {
    type: 'bar',
    stack: 'legend',
    barWidth: 14,
    silent: true,
    data: [classLimits[i + 1] - classLimits[i]],
    itemStyle: {
      color: color,
      borderRadius: i === 0 ? [7, 0, 0, 7] : (i === last ? [0, 7, 7, 0] : 0)
    }
  };
});

var myChart = echarts.init(document.getElementById('main'));
myChart.setOption({
  animation: false,
  backgroundColor: '#fff',
  title: {
    text: titleText,
    left: 743,
    top: 61,
    textAlign: 'center',
    textStyle: { fontFamily: 'DejaVu Sans', fontWeight: 'bold', fontSize: 38.5, color: '#444' }
  },
  visualMap: {
    show: false,
    type: 'piecewise',
    seriesIndex: 0,
    pieces: pieces
  },
  grid: { left: 269, top: 777, width: 960, height: 14 },
  xAxis: {
    type: 'value',
    min: 0,
    max: 80,
    interval: 10,
    axisLine: { show: false },
    axisTick: { show: false },
    splitLine: { show: false },
    axisLabel: {
      margin: 6,
      alignMinLabel: 'left',
      alignMaxLabel: 'right',
      fontFamily: 'Roboto',
      fontWeight: 500,
      fontSize: 13,
      color: '#555'
    }
  },
  yAxis: { type: 'category', show: false, data: ['escala'] },
  series: [{
    type: 'map',
    map: 'world',
    projection: mercator,
    boundingCoords: [[-180, 84], [180, -60]],
    left: 273.5,
    top: 125,
    width: 949,
    height: 644,
    roam: false,
    silent: true,
    label: { show: false },
    itemStyle: { areaColor: noDataColor, borderColor: '#fff', borderWidth: 1 },
    data: mapData
  }].concat(legendSeries)
});
window.onresize = myChart.resize;
</script>
</body>
</html>
